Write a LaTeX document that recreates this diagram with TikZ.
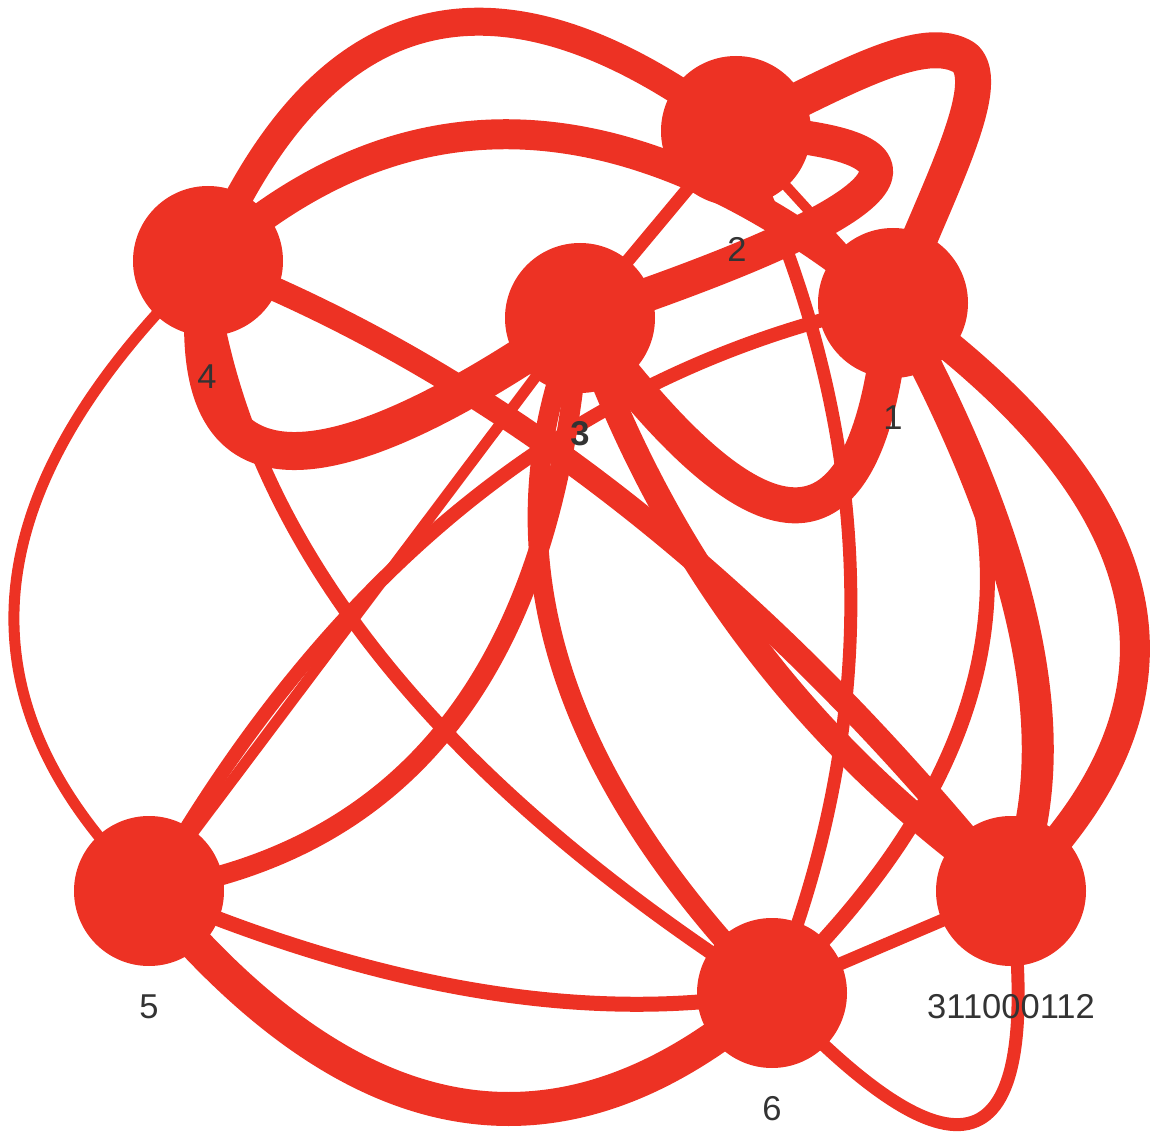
\documentclass[tikz,border=0pt]{standalone}
\usepackage{fontspec}
\setmainfont{Liberation Sans}
\usetikzlibrary{calc}
\definecolor{edgered}{RGB}{237,50,36}
\definecolor{labelgray}{RGB}{51,51,51}
\newcommand\qedge[4]{\draw[edgeline,line width=#4pt] (#1.center) .. controls ($(#1.center)!0.6667!(#3)$) and ($(#2.center)!0.6667!(#3)$) .. (#2.center);}
\newcommand\sedge[3]{\draw[edgeline,line width=#3pt] (#1.center) -- (#2.center);}
\begin{document}
\begin{tikzpicture}[x=1pt,y=-1pt,
  edgeline/.style={draw=edgered,line join=round},
  vertex/.style={circle,fill=edgered,minimum size=150pt,inner sep=0pt,draw=none},
  vlabel/.style={text=labelgray,font=\fontsize{34.5}{41}\selectfont,inner sep=0pt,anchor=center}]
\useasboundingbox (0,0) rectangle (1152,1139);
\node[vertex] (n1) at (893,303) {};
\node[vertex] (n2) at (736,131) {};
\node[vertex] (n3) at (580,318) {};
\node[vertex] (n4) at (208,261) {};
\node[vertex] (n5) at (149,891) {};
\node[vertex] (n6) at (772,993) {};
\node[vertex] (n311) at (1011,891) {};
\coordinate (loopturn) at (965,58);
% edges
\qedge{n4}{n2}{380,-140}{28}
\draw[edgeline,line width=36pt] (n2.center) .. controls (850,75) and (925,32) .. (loopturn)
      .. controls (995,86) and (935,195) .. (n1.center);
\qedge{n4}{n1}{510,-12}{30}
\qedge{n3}{n2}{1080,150}{34}
\sedge{n2}{n3}{13}
\sedge{n2}{n1}{10}
\qedge{n2}{n6}{946,562}{13}
\qedge{n4}{n311}{640,430}{24}
\qedge{n4}{n3}{160,610}{38}
\qedge{n4}{n6}{250,660}{14}
\qedge{n4}{n5}{-148,604}{11}
\qedge{n3}{n1}{860,700}{36}
\qedge{n5}{n1}{428,398}{14}
\sedge{n5}{n3}{11}
\qedge{n5}{n3}{545,830}{20}
\qedge{n3}{n6}{438,650}{20}
\qedge{n3}{n311}{704,675}{26}
\qedge{n1}{n6}{1130,650}{15}
\qedge{n1}{n311}{1100,680}{32}
\qedge{n1}{n311}{1308,603}{30}
\sedge{n6}{n311}{13}
\qedge{n6}{n311}{1060,1300}{13}
\qedge{n5}{n6}{499.5,1040}{15}
\qedge{n5}{n6}{459.5,1268}{34}
% labels
\node[vlabel] (l1) at (893,418) {1};
\node[vlabel] (l2) at (737,249) {2};
\node[vlabel,font=\fontsize{34.5}{41}\selectfont\bfseries] (l3) at (580,434) {3};
\node[vlabel] (l4) at (207,377) {4};
\node[vlabel] (l5) at (149,1007) {5};
\node[vlabel] (l6) at (772,1109) {6};
\node[vlabel] (l311) at (1011,1007) {311000112};
\end{tikzpicture}
\end{document}
